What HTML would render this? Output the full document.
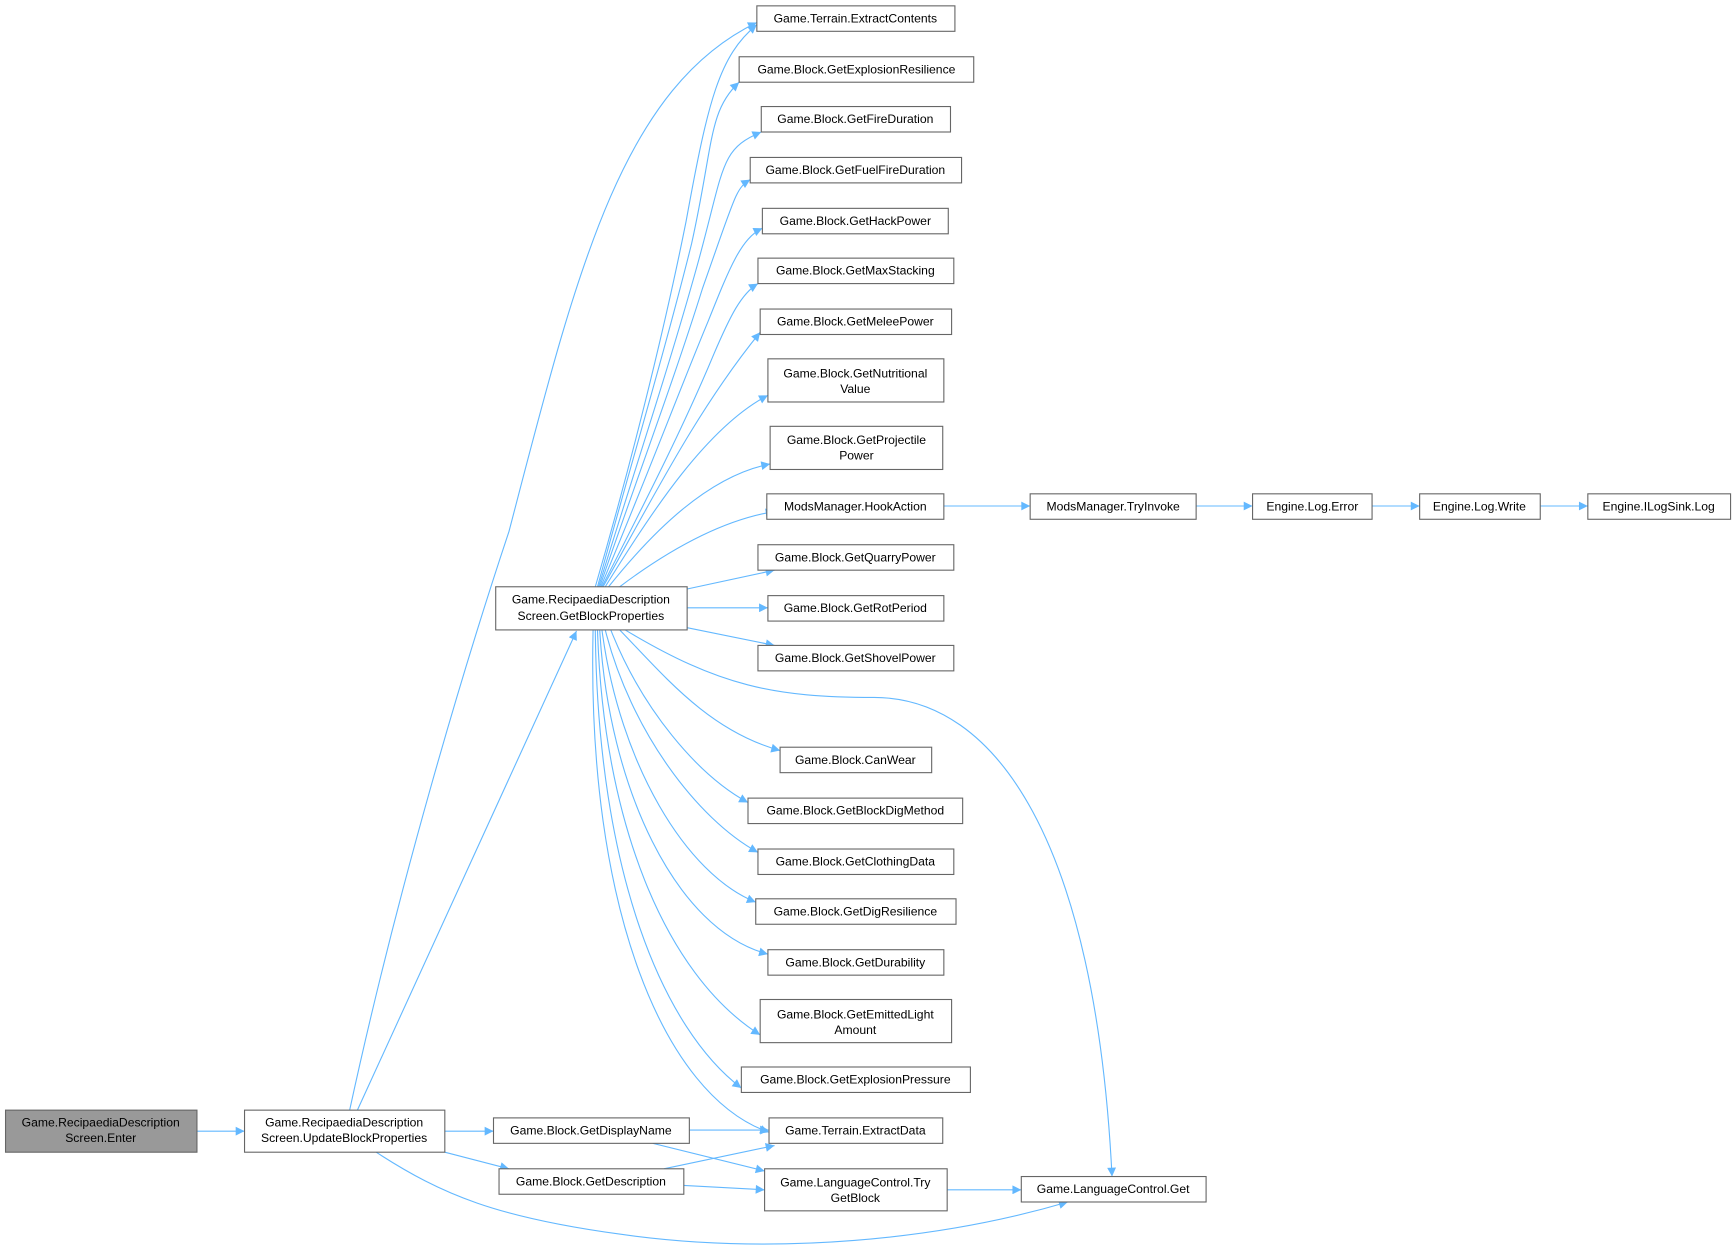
<!DOCTYPE html>
<html><head><meta charset="utf-8"><style>
html,body{margin:0;padding:0;background:#fff;}
svg{display:block;}
text{font-family:"Liberation Sans",Arial,sans-serif;font-size:11px;fill:#000;text-anchor:middle;}
.n{fill:#fff;stroke:#666;stroke-width:1;}
.e{fill:none;stroke:#63b8ff;stroke-width:1;}
</style></head><body>
<svg width="1735" height="1251" viewBox="0 0 1568 1130" xmlns="http://www.w3.org/2000/svg">
<defs><marker id="a" viewBox="0 0 10 10" refX="10" refY="5" markerWidth="11" markerHeight="8" markerUnits="userSpaceOnUse" orient="auto"><path d="M0,0 L10,5 L0,10 z" fill="#63b8ff"/></marker></defs>
<g class="e" marker-end="url(#a)">
<path d="M178,1022 L221,1022"/>
<path d="M316,1003 C360,800 420,600 460,480 C520,250 560,80 684,20"/>
<path d="M323,1003 L521,570"/>
<path d="M402,1022 L446,1022"/>
<path d="M402,1041 L460,1056"/>
<path d="M340,1041 C400,1080 450,1100 560,1115 C700,1135 850,1120 965,1086"/>
<path d="M538,530 C570,420 600,300 620,200 C640,90 650,50 684,22"/>
<path d="M540,530 C570,420 600,320 625,220 C645,130 640,100 668,74"/>
<path d="M541,530 C575,420 605,330 630,240 C655,150 650,135 688,119"/>
<path d="M542,530 C580,420 610,340 635,260 C665,175 665,170 678,162"/>
<path d="M543,530 C585,430 615,350 640,290 C660,240 670,215 689,206"/>
<path d="M544,530 C590,440 620,380 645,320 C660,285 670,265 685,256"/>
<path d="M545,530 C590,450 630,370 687,300"/>
<path d="M547,530 C590,460 640,385 694,357"/>
<path d="M550,530 C590,480 640,430 696,419"/>
<path d="M560,530 C600,500 650,470 700,462"/>
<path d="M621,532 L700,515"/>
<path d="M621,549 L694,549"/>
<path d="M621,567 L700,583"/>
<path d="M565,569 C650,620 700,630 790,630 C900,630 990,760 1005,1063"/>
<path d="M560,569 C600,610 640,660 705,678"/>
<path d="M552,569 C580,640 630,700 676,725"/>
<path d="M547,569 C570,660 630,740 685,770"/>
<path d="M544,569 C560,690 620,790 683,815"/>
<path d="M542,569 C550,710 610,840 694,862"/>
<path d="M540,569 C545,740 600,880 687,935"/>
<path d="M538,569 C540,790 600,930 670,983"/>
<path d="M536,569 C530,820 600,990 695,1023"/>
<path d="M623,1021 L695,1021"/>
<path d="M590,1033 L691,1058"/>
<path d="M600,1056 L700,1035"/>
<path d="M618,1071 L691,1075"/>
<path d="M856,1075 L923,1075"/>
<path d="M853,457 L931,457"/>
<path d="M1081,457 L1132,457"/>
<path d="M1240,457 L1283,457"/>
<path d="M1392,457 L1435,457"/>
</g>
<rect x="5" y="1003" width="173" height="38" fill="#999" stroke="#666"/>
<text x="91" y="1018">Game.RecipaediaDescription</text><text x="91" y="1032">Screen.Enter</text>
<rect class="n" x="221" y="1003" width="181" height="38"/>
<text x="311" y="1018">Game.RecipaediaDescription</text><text x="311" y="1032">Screen.UpdateBlockProperties</text>
<rect class="n" x="448" y="530" width="173" height="39"/>
<text x="534" y="545">Game.RecipaediaDescription</text><text x="534" y="560">Screen.GetBlockProperties</text>
<rect class="n" x="684" y="5" width="179" height="23"/><text x="773" y="20">Game.Terrain.ExtractContents</text>
<rect class="n" x="668" y="51" width="212" height="23"/><text x="774" y="66">Game.Block.GetExplosionResilience</text>
<rect class="n" x="688" y="96" width="171" height="23"/><text x="773" y="111">Game.Block.GetFireDuration</text>
<rect class="n" x="678" y="142" width="191" height="23"/><text x="773" y="157">Game.Block.GetFuelFireDuration</text>
<rect class="n" x="689" y="188" width="168" height="23"/><text x="773" y="203">Game.Block.GetHackPower</text>
<rect class="n" x="685" y="233" width="177" height="23"/><text x="773" y="248">Game.Block.GetMaxStacking</text>
<rect class="n" x="687" y="279" width="173" height="23"/><text x="773" y="294">Game.Block.GetMeleePower</text>
<rect class="n" x="694" y="324" width="159" height="39"/><text x="773" y="341">Game.Block.GetNutritional</text><text x="773" y="355">Value</text>
<rect class="n" x="696" y="385" width="156" height="39"/><text x="774" y="401">Game.Block.GetProjectile</text><text x="774" y="415">Power</text>
<rect class="n" x="693" y="446" width="160" height="23"/><text x="773" y="461">ModsManager.HookAction</text>
<rect class="n" x="685" y="492" width="177" height="23"/><text x="773" y="507">Game.Block.GetQuarryPower</text>
<rect class="n" x="694" y="538" width="159" height="23"/><text x="773" y="553">Game.Block.GetRotPeriod</text>
<rect class="n" x="685" y="583" width="177" height="23"/><text x="773" y="598">Game.Block.GetShovelPower</text>
<rect class="n" x="705" y="675" width="137" height="23"/><text x="773" y="690">Game.Block.CanWear</text>
<rect class="n" x="676" y="721" width="194" height="23"/><text x="773" y="736">Game.Block.GetBlockDigMethod</text>
<rect class="n" x="685" y="767" width="177" height="23"/><text x="773" y="782">Game.Block.GetClothingData</text>
<rect class="n" x="683" y="812" width="181" height="23"/><text x="773" y="827">Game.Block.GetDigResilience</text>
<rect class="n" x="694" y="858" width="159" height="23"/><text x="773" y="873">Game.Block.GetDurability</text>
<rect class="n" x="687" y="903" width="173" height="39"/><text x="773" y="920">Game.Block.GetEmittedLight</text><text x="773" y="934">Amount</text>
<rect class="n" x="670" y="964" width="207" height="23"/><text x="773" y="979">Game.Block.GetExplosionPressure</text>
<rect class="n" x="695" y="1010" width="157" height="23"/><text x="773" y="1025">Game.Terrain.ExtractData</text>
<rect class="n" x="446" y="1010" width="177" height="23"/><text x="534" y="1025">Game.Block.GetDisplayName</text>
<rect class="n" x="451" y="1056" width="167" height="23"/><text x="534" y="1071">Game.Block.GetDescription</text>
<rect class="n" x="691" y="1056" width="165" height="38"/><text x="773" y="1072">Game.LanguageControl.Try</text><text x="773" y="1086">GetBlock</text>
<rect class="n" x="923" y="1063" width="167" height="23"/><text x="1006" y="1078">Game.LanguageControl.Get</text>
<rect class="n" x="931" y="446" width="150" height="23"/><text x="1006" y="461">ModsManager.TryInvoke</text>
<rect class="n" x="1132" y="446" width="108" height="23"/><text x="1186" y="461">Engine.Log.Error</text>
<rect class="n" x="1283" y="446" width="109" height="23"/><text x="1337" y="461">Engine.Log.Write</text>
<rect class="n" x="1435" y="446" width="129" height="23"/><text x="1499" y="461">Engine.ILogSink.Log</text>
</svg>
</body></html>
